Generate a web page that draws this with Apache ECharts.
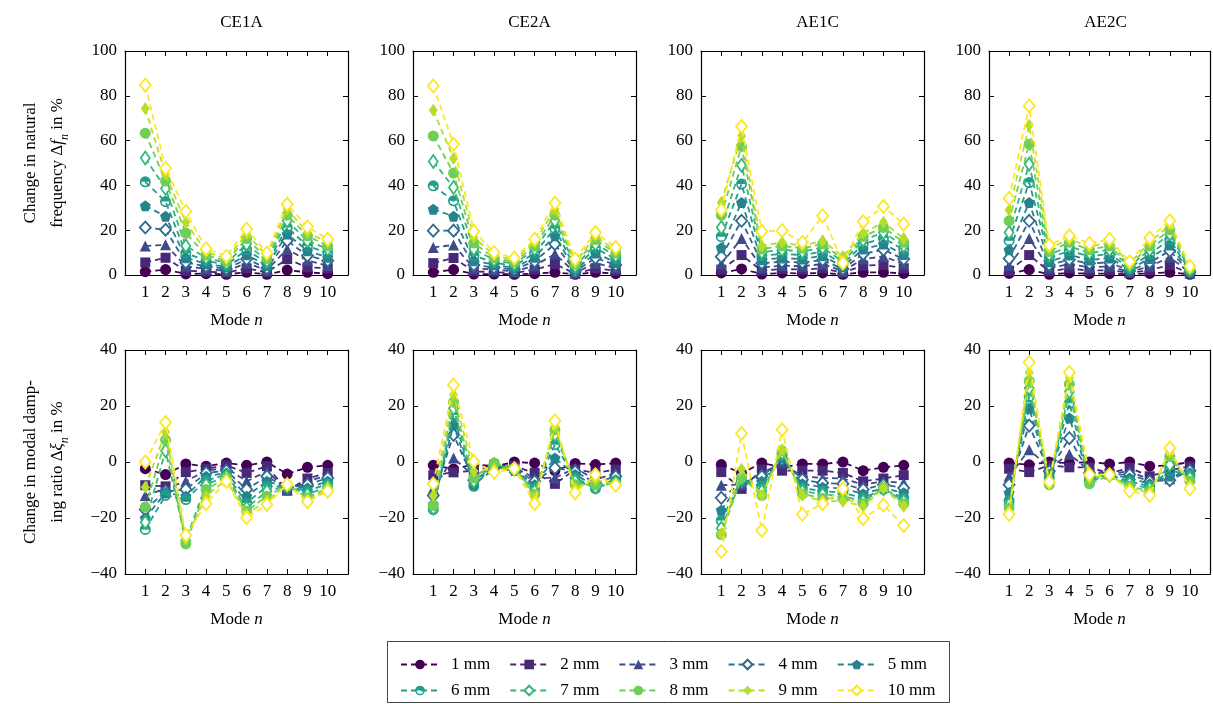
<!DOCTYPE html>
<html>
<head>
<meta charset="utf-8">
<script src="https://cdn.jsdelivr.net/npm/echarts@6/dist/echarts.min.js"></script>
<style>
  html, body { margin: 0; padding: 0; background: #fff; }
  #chart { width: 1213px; height: 704px; }
</style>
</head>
<body>
<div id="chart"></div>
<script>
// Mode numbers and specimen sizes
const modes = [1, 2, 3, 4, 5, 6, 7, 8, 9, 10];
const sizes = ['1 mm', '2 mm', '3 mm', '4 mm', '5 mm', '6 mm', '7 mm', '8 mm', '9 mm', '10 mm'];
const panels = ['CE1A', 'CE2A', 'AE1C', 'AE2C'];
const freqTicks = [0, 20, 40, 60, 80, 100];
const dampTicks = [-40, -20, 0, 20, 40];

// Change in natural frequency (%), one row per size, columns = modes 1..10
const freqCE1A = [
  [1.5, 2.4, 0.5, 0.6, 0.3, 1.2, 0.3, 2.2, 1.2, 0.6],
  [5.6, 7.7, 1.9, 1.5, 1.0, 3.0, 1.2, 7.1, 3.4, 3.0],
  [12.9, 13.5, 3.9, 2.7, 1.8, 5.3, 2.2, 11.6, 6.4, 4.2],
  [21.2, 20.2, 5.6, 3.9, 2.7, 7.1, 3.1, 15.3, 8.6, 6.4],
  [30.9, 26.2, 7.7, 5.0, 3.6, 9.0, 4.2, 18.3, 10.8, 7.9],
  [41.6, 32.8, 9.8, 6.4, 4.5, 11.3, 5.3, 21.2, 13.0, 9.8],
  [52.2, 38.6, 13.0, 7.7, 5.3, 13.8, 6.4, 24.2, 15.3, 11.6],
  [63.3, 42.0, 18.7, 8.9, 6.2, 16.3, 7.4, 26.7, 17.5, 13.0],
  [74.3, 45.0, 23.5, 10.4, 7.1, 18.3, 8.6, 29.4, 19.0, 14.6],
  [84.8, 47.7, 28.4, 11.7, 8.3, 20.5, 9.8, 31.6, 21.5, 16.0]
];
const freqCE2A = [
  [1.2, 2.4, 0.4, 0.4, 0.3, 0.6, 1.2, 0.3, 1.2, 0.6],
  [5.3, 7.6, 1.6, 1.3, 0.9, 2.4, 4.9, 0.6, 3.0, 1.9],
  [12.3, 13.4, 3.0, 2.4, 1.6, 4.2, 9.4, 1.0, 5.3, 3.1],
  [19.8, 19.8, 4.5, 3.4, 2.4, 6.1, 13.8, 1.6, 7.6, 4.5],
  [29.4, 26.2, 6.4, 4.6, 3.1, 7.9, 17.5, 2.2, 9.8, 5.6],
  [39.8, 33.1, 8.6, 5.6, 4.0, 9.8, 20.8, 3.0, 12.0, 7.1],
  [50.7, 39.1, 11.6, 6.7, 4.9, 11.6, 24.2, 3.9, 13.8, 8.6],
  [62.1, 45.5, 14.3, 7.7, 5.8, 13.0, 26.7, 4.8, 15.8, 9.8],
  [73.5, 52.0, 16.8, 8.9, 6.7, 14.6, 29.4, 5.6, 17.5, 10.8],
  [84.4, 58.4, 19.5, 10.1, 7.6, 16.0, 32.1, 7.1, 19.0, 12.3]
];
const freqAE1C = [
  [0.9, 2.7, 0.4, 0.9, 0.7, 0.9, 0.3, 1.2, 1.2, 0.7],
  [2.4, 8.9, 1.9, 2.7, 2.4, 3.0, 1.0, 4.2, 4.5, 3.0],
  [4.9, 16.3, 3.4, 4.2, 3.9, 4.9, 1.8, 7.1, 8.3, 4.9],
  [8.2, 24.2, 5.3, 5.9, 5.6, 6.7, 2.7, 9.4, 11.3, 7.1],
  [12.2, 32.4, 6.8, 7.6, 7.1, 8.6, 3.7, 11.6, 13.8, 9.1],
  [17.1, 40.6, 8.6, 9.4, 8.9, 10.4, 4.8, 13.8, 16.5, 11.3],
  [21.2, 49.0, 10.1, 11.3, 10.4, 12.3, 5.9, 15.6, 19.0, 13.0],
  [26.7, 57.4, 11.6, 13.0, 11.9, 13.8, 7.1, 17.2, 21.2, 14.6],
  [32.4, 62.0, 13.0, 14.6, 13.0, 15.3, 8.3, 18.7, 23.5, 16.3],
  [29.0, 66.3, 19.5, 19.8, 14.6, 26.4, 5.3, 23.8, 30.6, 22.7]
];
const freqAE2C = [
  [0.7, 2.4, 0.3, 0.9, 0.6, 0.6, 0.3, 0.7, 1.2, 0.3],
  [1.9, 8.9, 1.6, 3.0, 1.9, 2.2, 0.9, 2.2, 4.5, 0.7],
  [4.2, 16.3, 3.0, 4.9, 3.4, 3.9, 1.3, 3.9, 7.9, 1.0],
  [7.4, 24.2, 4.5, 6.8, 5.2, 5.6, 1.9, 5.6, 10.8, 1.3],
  [11.3, 32.4, 5.9, 8.9, 6.7, 7.6, 2.5, 7.4, 13.4, 1.6],
  [15.3, 41.3, 7.6, 10.8, 8.3, 9.4, 3.1, 9.4, 15.8, 1.9],
  [19.0, 49.5, 9.1, 12.8, 9.8, 11.3, 3.9, 11.3, 18.3, 2.4],
  [24.2, 58.4, 10.5, 14.6, 11.3, 13.0, 4.5, 13.0, 20.2, 2.8],
  [29.0, 66.9, 11.9, 16.0, 12.6, 14.6, 5.2, 14.6, 22.3, 3.3],
  [34.2, 75.5, 13.4, 17.5, 14.1, 16.0, 5.9, 16.5, 24.2, 3.9]
];

// Change in modal damping ratio (%), one row per size, columns = modes 1..10
const dampCE1A = [
  [-2.4, -4.5, -0.7, -1.5, -0.4, -1.2, 0, -4.3, -1.9, -1.2],
  [-8.3, -8.7, -3.6, -2.4, -1.2, -3.9, -1.5, -10.2, -5.9, -3.9],
  [-12, -9.5, -6.9, -3.1, -2.1, -6.9, -3.3, -10, -6.9, -4.7],
  [-17, -10.5, -9.8, -3.9, -3.1, -9.8, -5.1, -9.5, -8.1, -5.7],
  [-20, -11, -12.2, -5.1, -3.9, -12.2, -6.9, -9, -9.3, -6.9],
  [-24.1, -11.9, -13.4, -6.6, -4.5, -14.6, -8.7, -8.8, -10.4, -7.8],
  [-21.5, 4, -28, -8.1, -5.1, -16.4, -10.4, -8.5, -11.6, -8.7],
  [-16.1, 7.9, -29.2, -9.8, -5.7, -17.6, -12.2, -8.3, -12.8, -9.3],
  [-9, 10.7, -27.6, -12.2, -6.3, -18.7, -13.8, -8.2, -13.8, -9.8],
  [0, 14.1, -26.1, -14.9, -6.9, -19.9, -15.2, -8, -14.2, -10.4]
];
const dampCE2A = [
  [-1.2, -2.5, -0.9, -1.5, 0, -0.4, -3.1, -0.5, -0.9, -0.4],
  [-4.7, -3.7, -3.1, -1, -1.5, -3.9, -7.8, -2.7, -3.9, -2.7],
  [-9.5, 1.4, -5, -1.5, -2, -5.7, -5.7, -2.2, -6.3, -3.9],
  [-12, 9.7, -6.5, -2, -2.5, -6.9, -2.1, -3.4, -7.5, -5.1],
  [-15, 13.3, -8, -2.5, -3, -8.1, 1.4, -4.5, -8.7, -6.3],
  [-17, 16.8, -8.7, -1, -3, -9.3, 6.2, -5.7, -9.5, -6.9],
  [-16.5, 19.2, -6.9, -1, -2.5, -10.4, 9.7, -6.9, -9, -7.5],
  [-15.5, 21.4, -5.7, -0.4, -2.2, -11.6, 11.5, -8.1, -8.1, -7.8],
  [-12, 24, -3.3, -2.5, -2.3, -12.8, 12.7, -9.3, -6.3, -8.1],
  [-7.8, 27.5, 0.2, -3.7, -2.4, -14.9, 14.7, -11, -4.5, -8.3]
];
const dampAE1C = [
  [-0.9, -4, -0.4, -1.9, -0.7, -0.7, 0, -3.1, -1.9, -1.2],
  [-3.6, -9.6, -2.7, -3.1, -3.1, -3.1, -3.9, -6.9, -5.9, -4.7],
  [-8.3, -8, -3.9, -0.4, -5.1, -5.7, -5.9, -8.1, -6.9, -7.5],
  [-12.8, -7.5, -5.1, 0.8, -6.3, -7.5, -7.8, -9.8, -8.1, -9.3],
  [-17.2, -7, -6.9, 1.4, -7.8, -9, -9.5, -11.4, -9.3, -11],
  [-20.9, -6.5, -8.7, 2.6, -9.3, -10.4, -11, -12.8, -9.8, -12.8],
  [-23.7, -6, -10.4, 3.2, -10.4, -11.6, -12.2, -14, -9.5, -14],
  [-25.9, -5.5, -11.9, 4, -11.4, -13, -13, -14.9, -9, -14.9],
  [-25.6, -2.6, -11.9, 4.4, -11.9, -14, -14, -15.8, -9.3, -15.8],
  [-32, 10.2, -24.4, 11.5, -18.7, -14.9, -9.5, -20.2, -15.4, -22.7]
];
const dampAE2C = [
  [-0.4, -1, 0, -0.4, 0, -0.7, 0, -1.5, -1.2, 0],
  [-2.4, -3.6, -1.2, -1.9, -1.9, -4, -2.1, -5.1, -3, -1.5],
  [-5.1, 4.4, -2.1, 2.8, -3.1, -4.2, -3.3, -6.3, -6, -2.1],
  [-8.1, 13, -3.3, 8.5, -3.9, -4.4, -4.5, -6.9, -6.5, -3.1],
  [-11, 19.2, -4.5, 15.7, -5.5, -4.5, -5.7, -7.8, -5, -3.9],
  [-13.8, 23.4, -5.7, 21, -6.3, -4.6, -6.9, -8.7, -3, -4.7],
  [-15.2, 26.3, -6.9, 25.1, -6.9, -4.7, -7.8, -9.5, -1, -5.7],
  [-16.4, 28.9, -8.1, 27.8, -7.8, -4.8, -8.7, -10.4, 2, -6.9],
  [-17.6, 32, -7.8, 30.1, -5.7, -4.6, -9.5, -11, 3.6, -8.1],
  [-18.7, 35.6, -7.1, 32, -4.5, -4.5, -10.4, -11.9, 5, -9.5]
];

const freqData = [freqCE1A, freqCE2A, freqAE1C, freqAE2C];
const dampData = [dampCE1A, dampCE2A, dampAE1C, dampAE2C];

// viridis, one colour per size
const colors = ['#440154', '#482878', '#3e4a89', '#31688e', '#26828e',
                '#1f9e89', '#35b779', '#6ece58', '#b5de2b', '#fde725'];

// marker per size
const thinDiamond = 'path://M0,-10L6,0L0,10L-6,0Z';
const markers = [
  { symbol: 'circle', size: 11, open: false },
  { symbol: 'rect', size: 10, open: false },
  { symbol: 'triangle', size: 11, open: false },
  { symbol: 'diamond', size: [11, 12], open: true },
  { symbol: 'path://M0,-10L9.51,-3.09L5.88,8.09L-5.88,8.09L-9.51,-3.09Z', size: 11, open: false },
  { symbol: 'path://M-10,0A10,10 0 1,1 10,0A10,10 0 1,1 -10,0Z M7,0L-7,0A7,7 0 0,0 7,0Z', size: 11, open: false },
  { symbol: thinDiamond, size: [9, 13], open: true },
  { symbol: 'circle', size: 11, open: false },
  { symbol: thinDiamond, size: [9, 13], open: false },
  { symbol: 'diamond', size: [11, 13], open: true }
];

const FONT = 'Liberation Serif';
const FS = 17;
const gridLefts = [125, 413, 701, 989];
const gridW = 223, gridH = 224;
const rowTops = [51, 350];

const minus = v => (v < 0 ? '\u2212' + (-v) : String(v));

const grids = [], xAxes = [], yAxes = [], series = [], titles = [];
const richName = {
  i: { fontFamily: FONT, fontSize: FS, fontStyle: 'italic' },
  s: { fontFamily: FONT, fontSize: 12, fontStyle: 'italic', verticalAlign: 'bottom', padding: [8, 0, 0, 0] }
};

for (let r = 0; r < 2; r++) {
  for (let c = 0; c < 4; c++) {
    const g = grids.length;
    grids.push({ left: gridLefts[c], top: rowTops[r], width: gridW, height: gridH });
    const ticks = r === 0 ? freqTicks : dampTicks;
    const ymin = ticks[0], ymax = ticks[ticks.length - 1];
    const tickStyle = { inside: true, length: 5, lineStyle: { color: '#000', width: 1 } };
    const lineStyle = { show: true, onZero: false, lineStyle: { color: '#000', width: 1.2 } };
    const axisText = { fontFamily: FONT, fontSize: FS, color: '#000' };
    // bottom and mirrored top x axes
    xAxes.push({
      type: 'value', gridIndex: g, position: 'bottom', min: 0, max: 11, interval: 1,
      axisLine: lineStyle, axisTick: tickStyle, splitLine: { show: false },
      axisLabel: Object.assign({ margin: 9, formatter: v => (v >= 1 && v <= 10 ? String(v) : '') }, axisText),
      name: 'Mode {i|n}', nameLocation: 'middle', nameGap: 37,
      nameTextStyle: Object.assign({ rich: richName }, axisText)
    });
    xAxes.push({
      type: 'value', gridIndex: g, position: 'top', min: 0, max: 11, interval: 1,
      axisLine: lineStyle, axisTick: tickStyle, splitLine: { show: false }, axisLabel: { show: false }
    });
    // left and mirrored right y axes
    const yLeft = {
      type: 'value', gridIndex: g, position: 'left', min: ymin, max: ymax, interval: 20,
      axisLine: lineStyle, axisTick: tickStyle, splitLine: { show: false },
      axisLabel: Object.assign({ margin: 8, formatter: minus }, axisText)
    };
    if (c === 0) {
      yLeft.name = r === 0
        ? 'Change in natural\nfrequency \u0394{i|f}{s|n} in %'
        : 'Change in modal damp-\ning ratio \u0394{i|\u03be}{s|n} in %';
      yLeft.nameLocation = 'middle';
      yLeft.nameGap = 54;
      yLeft.nameTextStyle = Object.assign({ lineHeight: 27, rich: richName }, axisText);
    }
    yAxes.push(yLeft);
    yAxes.push({
      type: 'value', gridIndex: g, position: 'right', min: ymin, max: ymax, interval: 20,
      axisLine: lineStyle, axisTick: tickStyle, splitLine: { show: false }, axisLabel: { show: false }
    });

    const table = r === 0 ? freqData[c] : dampData[c];
    table.forEach((row, k) => {
      const m = markers[k];
      series.push({
        type: 'line', name: sizes[k], xAxisIndex: 2 * g, yAxisIndex: 2 * g,
        data: modes.map((md, j) => [md, row[j]]),
        symbol: m.symbol, symbolSize: m.size, showSymbol: true,
        lineStyle: { color: colors[k], width: 1.8, type: [6, 4] },
        itemStyle: m.open
          ? { color: '#fff', borderColor: colors[k], borderWidth: 1.8 }
          : { color: colors[k], borderColor: colors[k], borderWidth: 0 },
        emphasis: { disabled: true },
        z: 2 + k
      });
    });

    if (r === 0) {
      titles.push({
        text: panels[c], left: gridLefts[c] + gridW / 2, top: 9, textAlign: 'center',
        textStyle: { fontFamily: FONT, fontSize: FS, fontWeight: 'normal', color: '#000' }
      });
    }
  }
}

const legendCommon = {
  orient: 'horizontal', left: 395, itemWidth: 38, itemHeight: 12, itemGap: 19,
  selectedMode: false,
  textStyle: { fontFamily: FONT, fontSize: FS, color: '#000', padding: [0, 0, 0, 7] }
};

const chart = echarts.init(document.getElementById('chart'), null, { renderer: 'canvas' });
chart.setOption({
  animation: false,
  backgroundColor: '#fff',
  title: titles,
  grid: grids,
  xAxis: xAxes,
  yAxis: yAxes,
  legend: [
    Object.assign({ top: 651, data: sizes.slice(0, 5) }, legendCommon),
    Object.assign({ top: 677, data: sizes.slice(5) }, legendCommon)
  ],
  graphic: [{
    type: 'rect', shape: { x: 387.5, y: 641.5, width: 562, height: 61 },
    style: { fill: 'none', stroke: '#444', lineWidth: 1 }, silent: true
  }],
  series: series
});
</script>
</body>
</html>
